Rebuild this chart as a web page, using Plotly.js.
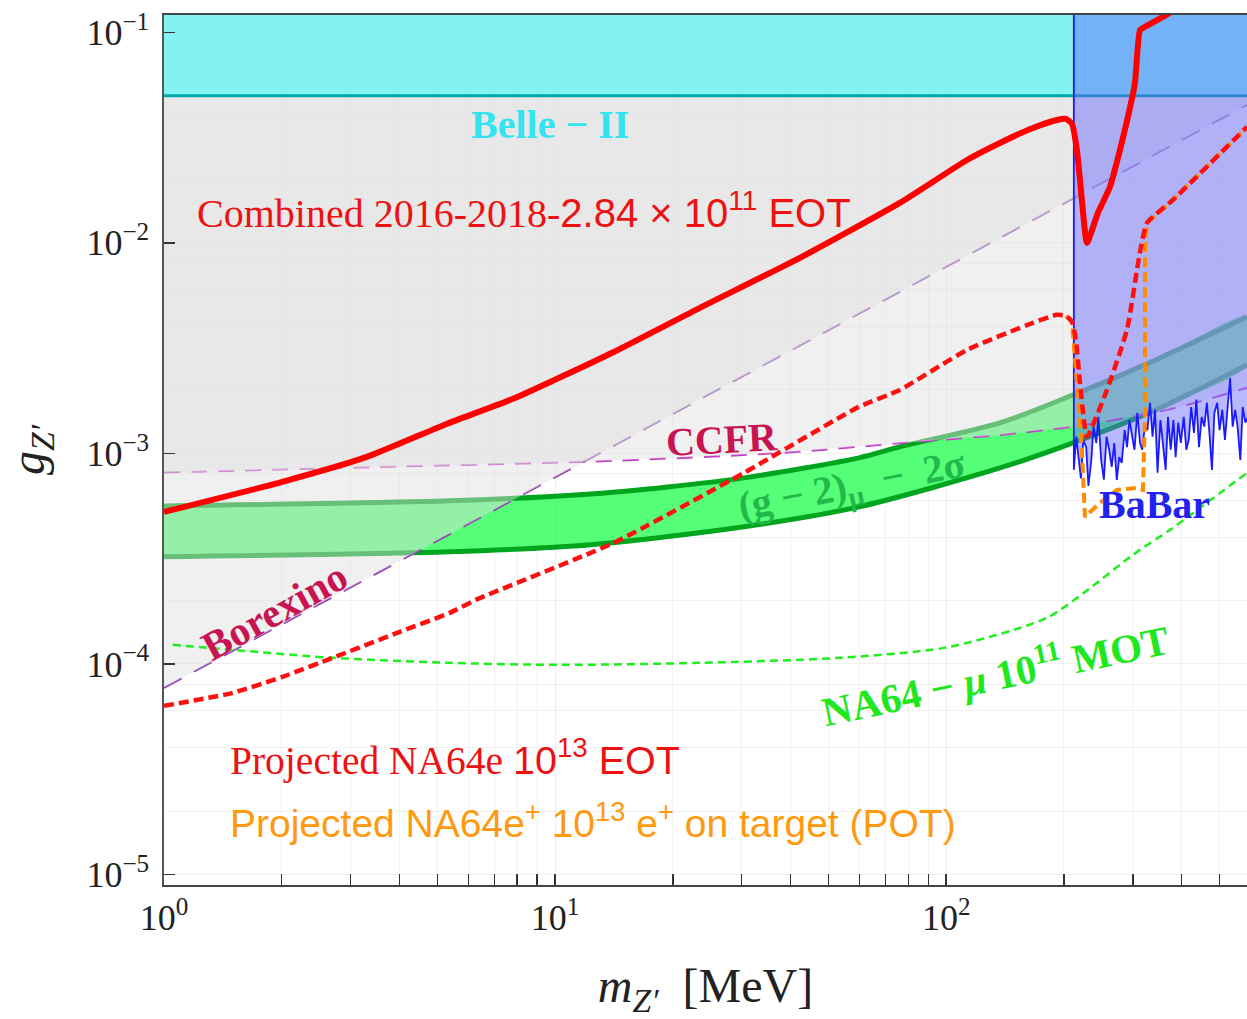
<!DOCTYPE html>
<html>
<head>
<meta charset="utf-8">
<script src="https://cdn.plot.ly/plotly-3.0.1.min.js"></script>
<style>
  html, body { margin: 0; padding: 0; background: #ffffff; }
  #chart { width: 1247px; height: 1019px; }
</style>
</head>
<body>
<div id="chart"></div>
<script>
// Z' mass in MeV, coupling g_Z'

// (g-2)_mu 2 sigma band
const bandUpperMass = [1, 5.38, 12.34, 19.42, 30.4, 59.8, 76.1, 137.2, 210.9, 352, 587.5];
const bandUpperG    = [5.63e-4, 5.95e-4, 6.42e-4, 6.93e-4, 7.65e-4, 9.52e-4, 1.074e-3, 1.395e-3, 1.895e-3, 2.84e-3, 4.45e-3];
const bandLowerMass = [1, 5.38, 12.34, 30.4, 59.8, 137.2, 210.9, 352, 587.5];
const bandLowerG    = [3.23e-4, 3.41e-4, 3.68e-4, 4.48e-4, 5.57e-4, 8.53e-4, 1.122e-3, 1.644e-3, 2.63e-3];

// CCFR limit
const ccfrMass = [1, 4.007, 12.34, 38.2, 76.1, 137.2, 210.9, 366.9, 587.5];
const ccfrG    = [8.11e-4, 8.66e-4, 9.14e-4, 1.006e-3, 1.118e-3, 1.224e-3, 1.341e-3, 1.609e-3, 2.05e-3];

// Borexino limit
const borexinoMass = [1, 10, 100, 600];
const borexinoG    = [7.7e-5, 7.7e-4, 7.7e-3, 4.62e-2];

// Belle-II limit
const belleMass = [1, 600];
const belleG    = [0.05, 0.05];

// BaBar limit (starts at the dimuon threshold)
const babarMass = [212, 215, 218, 221, 224, 228, 231, 235, 238, 242, 245, 249, 253, 257, 261, 265, 269, 273, 277, 281,
  286, 290, 294, 299, 303, 308, 313, 317, 322, 327, 332, 337, 342, 347, 353, 358, 364, 369, 375, 381,
  386, 392, 398, 405, 411, 417, 423, 430, 436, 443, 450, 457, 464, 471, 478, 485, 493, 500, 508, 516,
  524, 532, 540, 548, 556, 565, 573, 582, 591];
const babarG = [8.35e-4, 1.20e-3, 9.6e-4, 7.6e-4, 1.16e-3, 1.07e-3, 7.0e-4, 9.3e-4, 1.34e-3, 1.12e-3,
  1.49e-3, 9.3e-4, 7.5e-4, 1.20e-3, 1.04e-3, 8.63e-4, 1.12e-3, 7.48e-4, 9.6e-4, 9.0e-4,
  1.29e-3, 1.07e-3, 1.44e-3, 1.20e-3, 1.04e-3, 1.56e-3, 1.12e-3, 1.04e-3, 1.34e-3, 1.29e-3,
  1.74e-3, 1.20e-3, 1.61e-3, 8.1e-4, 1.44e-3, 1.12e-3, 8.35e-4, 1.49e-3, 1.04e-3, 1.44e-3,
  9.6e-4, 1.40e-3, 1.12e-3, 1.49e-3, 1.04e-3, 1.16e-3, 1.66e-3, 1.25e-3, 1.80e-3, 1.07e-3,
  1.49e-3, 1.34e-3, 1.74e-3, 1.25e-3, 8.35e-4, 1.56e-3, 1.74e-3, 1.29e-3, 1.61e-3, 1.16e-3,
  1.61e-3, 2.28e-3, 1.34e-3, 1.61e-3, 1.34e-3, 9.3e-4, 1.66e-3, 1.40e-3, 1.49e-3];

// NA64e combined 2016-2018, 2.84e11 EOT
const na64eMass = [1, 1.977, 3.30, 5.28, 7.89, 14.13, 23.45, 42.25, 76.1, 113, 137.2, 166.6, 191.9, 202.4, 209.7,
  215.9, 222.3, 229.0, 244.3, 262.2, 278.1, 291.5, 303.8, 313.0, 322.3, 384.6];
const na64eG = [5.27e-4, 7.27e-4, 9.62e-4, 1.38e-3, 1.83e-3, 3.03e-3, 4.91e-3, 8.48e-3, 0.01547, 0.02474, 0.02981,
  0.0351, 0.0383, 0.03876, 0.0367, 0.0276, 0.0160, 0.0100, 0.01387, 0.01842, 0.0276, 0.0396, 0.0574, 0.1025, 0.106, 0.1276];

// Projected NA64e, 1e13 EOT
const projEotMass = [1, 1.499, 2.012, 2.70, 4.007, 5.38, 6.27, 14.13, 30.4, 59.8, 76.1, 113, 166.6, 191.9, 202.4,
  209.7, 214.6, 219.8, 225.0, 229.0, 257.6, 289.8, 313.0, 326.1, 380.0, 587.5];
const projEotG = [6.32e-5, 7.29e-5, 8.69e-5, 1.069e-4, 1.42e-4, 1.748e-4, 2.015e-4, 3.76e-4, 8.08e-4, 1.663e-3, 2.0e-3,
  3.10e-3, 4.17e-3, 4.55e-3, 4.50e-3, 4.21e-3, 3.46e-3, 2.16e-3, 1.442e-3, 1.198e-3, 2.0e-3, 3.86e-3, 9.05e-3, 0.01243, 0.01599, 0.0355];

// Projected NA64e+, 1e13 positrons on target
const projPotMass = [202.4, 209.7, 215.9, 222.3, 226.3, 237.2, 247.2, 273.3, 307.5, 318.4, 322.3, 322.3, 326.1, 380.0, 587.5];
const projPotG = [4.50e-3, 4.21e-3, 2.16e-3, 1.039e-3, 4.99e-4, 5.39e-4, 5.82e-4, 6.71e-4, 6.86e-4, 6.71e-4, 1.49e-3,
  9.25e-3, 0.01243, 0.01599, 0.0355];

// NA64-mu projection, 1e11 MOT
const na64muMass = [1.052, 1.499, 2.70, 5.38, 10.28, 23.45, 53.5, 98.6, 149, 183, 225, 300.3, 373.4, 445.5, 587.5];
const na64muG = [1.232e-4, 1.166e-4, 1.069e-4, 1.012e-4, 9.9e-5, 1.012e-4, 1.069e-4, 1.192e-4, 1.452e-4, 1.673e-4,
  2.176e-4, 3.30e-4, 4.33e-4, 5.51e-4, 8.08e-4];

// axis ticks
const xTickVals = [1, 10, 100];
const xTickText = ['10<sup>0</sup>', '10<sup>1</sup>', '10<sup>2</sup>'];
const xMinorVals = [2, 3, 4, 5, 6, 7, 8, 9, 20, 30, 40, 50, 60, 70, 80, 90, 200, 300, 400, 500];
const yTickVals = [1e-5, 1e-4, 1e-3, 1e-2, 1e-1];
const yTickText = ['10<sup>−5</sup>', '10<sup>−4</sup>', '10<sup>−3</sup>', '10<sup>−2</sup>', '10<sup>−1</sup>'];
const yMinorVals = [2e-5, 4e-5, 6e-5, 8e-5, 2e-4, 4e-4, 6e-4, 8e-4, 2e-3, 4e-3, 6e-3, 8e-3, 2e-2, 4e-2, 6e-2, 8e-2];

const TOP = 1; // upper closure for exclusion regions (above the visible range)

const SERIF = 'Liberation Serif, Times New Roman, serif';
const SANS = 'Liberation Sans, Arial, sans-serif';

const traces = [];

// (g-2) band fill
traces.push({
  x: bandUpperMass.concat(bandLowerMass.slice().reverse()),
  y: bandUpperG.concat(bandLowerG.slice().reverse()),
  mode: 'lines', fill: 'toself', fillcolor: 'rgba(0,255,51,0.667)',
  line: { width: 0, color: 'rgba(0,0,0,0)', shape: 'spline', smoothing: 0.8 }, hoverinfo: 'skip'
});
traces.push({ x: bandUpperMass, y: bandUpperG, mode: 'lines', line: { color: 'rgb(0,165,30)', width: 5, shape: 'spline', smoothing: 0.8 } });
traces.push({ x: bandLowerMass, y: bandLowerG, mode: 'lines', line: { color: 'rgb(0,165,30)', width: 5, shape: 'spline', smoothing: 0.8 } });

// CCFR and Borexino lines
traces.push({ x: ccfrMass, y: ccfrG, mode: 'lines', line: { color: '#c23cc8', width: 2, dash: '16px,11px', shape: 'spline', smoothing: 0.8 } });
traces.push({ x: borexinoMass, y: borexinoG, mode: 'lines', line: { color: '#8a3aae', width: 2, dash: '20px,14px' } });

// excluded (gray) regions
traces.push({
  x: ccfrMass.concat([ccfrMass[ccfrMass.length - 1], ccfrMass[0]]),
  y: ccfrG.concat([TOP, TOP]),
  mode: 'lines', fill: 'toself', fillcolor: 'rgba(223,223,223,0.467)', line: { width: 0, color: 'rgba(0,0,0,0)' }
});
traces.push({
  x: borexinoMass.concat([borexinoMass[borexinoMass.length - 1], borexinoMass[0]]),
  y: borexinoG.concat([TOP, TOP]),
  mode: 'lines', fill: 'toself', fillcolor: 'rgba(223,223,223,0.467)', line: { width: 0, color: 'rgba(0,0,0,0)' }
});

// Belle-II
traces.push({
  x: belleMass.concat([belleMass[1], belleMass[0]]),
  y: belleG.concat([TOP, TOP]),
  mode: 'lines', fill: 'toself', fillcolor: 'rgba(0,255,255,0.44)', line: { width: 0, color: 'rgba(0,0,0,0)' }
});
traces.push({ x: belleMass, y: belleG, mode: 'lines', line: { color: '#00a9ab', width: 3 } });

// BaBar
traces.push({
  x: [babarMass[0]].concat(babarMass, [babarMass[babarMass.length - 1]]),
  y: [TOP].concat(babarG, [TOP]),
  mode: 'lines', fill: 'toself', fillcolor: 'rgba(100,100,255,0.45)', line: { color: '#1a1aff', width: 1.8 }
});

// NA64-mu projection
traces.push({ x: na64muMass, y: na64muG, mode: 'lines', line: { color: '#1fee1f', width: 2.5, dash: '8px,5px', shape: 'spline', smoothing: 0.8 } });

// Projected NA64e+ (POT)
traces.push({ x: projPotMass, y: projPotG, mode: 'lines', line: { color: '#ff8c00', width: 4, dash: '10px,5px' } });

// Projected NA64e (EOT)
traces.push({ x: projEotMass, y: projEotG, mode: 'lines', line: { color: '#ff1010', width: 4.5, dash: '10px,5px', shape: 'spline', smoothing: 0.5 } });

// NA64e combined limit
traces.push({ x: na64eMass, y: na64eG, mode: 'lines', line: { color: '#ff0000', width: 6, shape: 'spline', smoothing: 0.5 } });

const W = 1247, H = 1019;
const L = 164, R = 0, T = 15, B = 134;

const annotations = [
  { text: '<b>Belle − II</b>', x: 0.3562, y: 0.8736, font: { family: SERIF, size: 40, color: '#33e3ef' } },
  { text: 'Combined 2016-2018-<span style="font-family:Liberation Sans">2.84 × 10<sup>11</sup> EOT</span>',
    x: 0.0284, y: 0.775, xanchor: 'left', font: { family: SERIF, size: 40, color: '#ee1111' } },
  { text: '<b>CCFR</b>', x: 0.5151, y: 0.5117, textangle: -3, font: { family: SERIF, size: 40, color: '#c81450' } },
  { text: '<b>(g − 2)<sub>μ</sub>  −  2σ</b>', x: 0.6353, y: 0.4577, textangle: -11, font: { family: SERIF, size: 40, color: '#22b84a' } },
  { text: '<b>Borexino</b>', x: 0.1021, y: 0.3152, textangle: -29, font: { family: SERIF, size: 41, color: '#c81450' } },
  { text: '<b>BaBar</b>', x: 0.9150, y: 0.437, font: { family: SERIF, size: 40, color: '#2222ee' } },
  { text: '<b>NA64 − <i>μ</i> 10<sup>11</sup> MOT</b>', x: 0.7672, y: 0.2439, textangle: -12, font: { family: SERIF, size: 41, color: '#1fe81f' } },
  { text: 'Projected NA64e <span style="font-family:Liberation Sans">10<sup>13</sup> EOT</span>',
    x: 0.0588, y: 0.146, xanchor: 'left', font: { family: SERIF, size: 39.5, color: '#ee1111' } },
  { text: 'Projected NA64e<sup>+</sup> 10<sup>13</sup> e<sup>+</sup> on target (POT)',
    x: 0.0588, y: 0.074, xanchor: 'left', font: { family: SANS, size: 39, color: '#ff9a10' } }
].map(a => Object.assign({ xref: 'paper', yref: 'paper', showarrow: false, xanchor: 'center', yanchor: 'middle' }, a));

const layout = {
  width: W, height: H,
  margin: { l: L, r: R, t: T, b: B },
  paper_bgcolor: '#ffffff', plot_bgcolor: '#ffffff',
  showlegend: false,
  font: { family: SERIF, color: '#222' },
  xaxis: {
    type: 'log', range: [0, 2.7691],
    tickmode: 'array', tickvals: xTickVals, ticktext: xTickText,
    ticks: 'inside', ticklen: 11, tickwidth: 1.5, tickcolor: '#333',
    tickfont: { family: SERIF, size: 36, color: '#222' },
    showline: true, linecolor: '#444', linewidth: 1.6, mirror: true,
    showgrid: true, gridcolor: 'rgba(0,0,0,0.06)', gridwidth: 1,
    zeroline: false,
    minor: { tickmode: 'array', tickvals: xMinorVals, ticks: 'inside', ticklen: 11, tickwidth: 1.5, tickcolor: '#333',
             showgrid: true, gridcolor: 'rgba(0,0,0,0.05)', gridwidth: 1 },
    title: { text: '<i>m</i><sub><i>Z′</i></sub>  [MeV]', font: { family: SERIF, size: 48, color: '#222' }, standoff: 32 }
  },
  yaxis: {
    type: 'log', range: [-5.050, -0.918],
    tickmode: 'array', tickvals: yTickVals, ticktext: yTickText,
    ticks: 'inside', ticklen: 11, tickwidth: 1.5, tickcolor: '#333',
    tickfont: { family: SERIF, size: 36, color: '#222' },
    ticklabelstandoff: 6,
    showline: true, linecolor: '#555', linewidth: 1.6, mirror: false,
    showgrid: true, gridcolor: 'rgba(0,0,0,0.06)', gridwidth: 1,
    zeroline: false,
    minor: { tickmode: 'array', tickvals: yMinorVals, ticks: '', showgrid: true, gridcolor: 'rgba(0,0,0,0.05)', gridwidth: 1 },
    title: { text: '<i>g</i><sub><i>Z′</i></sub>', font: { family: SERIF, size: 48, color: '#222' }, standoff: 26 }
  },
  annotations: annotations
};

Plotly.newPlot('chart', traces, layout, { staticPlot: true, displayModeBar: false });
</script>
</body>
</html>
